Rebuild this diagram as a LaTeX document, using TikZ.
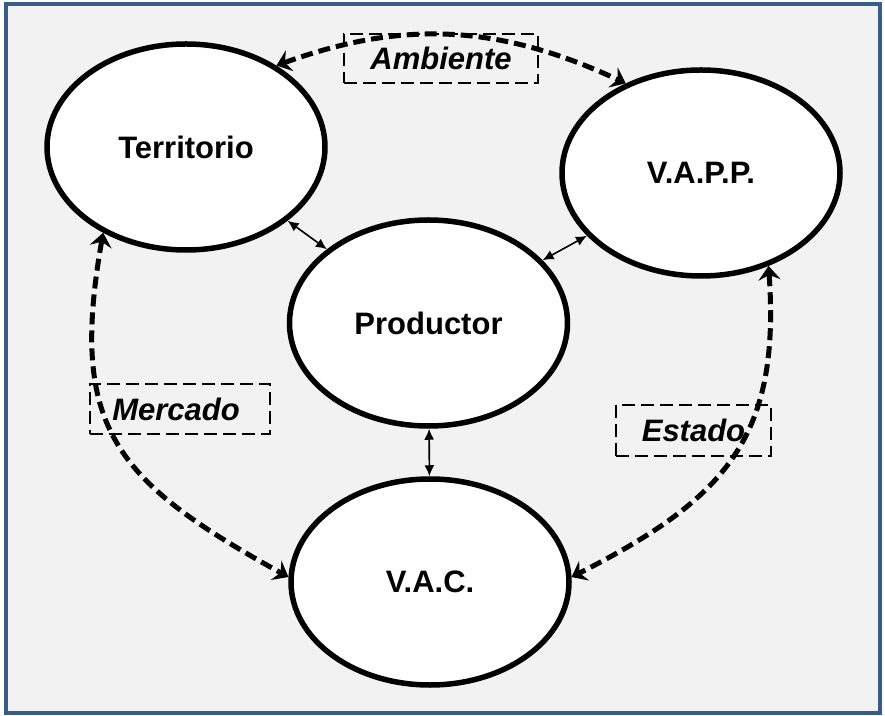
\documentclass[tikz,border=0pt]{standalone}
\usepackage{fontspec}
\setmainfont{Liberation Sans}
\usetikzlibrary{shapes.geometric,arrows.meta}
\definecolor{marco}{RGB}{56,93,138}
\definecolor{fondo}{RGB}{242,242,242}
\begin{document}
\begin{tikzpicture}[x=1pt,y=1pt,
    elipse/.style={ellipse,draw,fill=white,line width=5.5pt,minimum width=278pt,minimum height=206pt,
      font=\fontsize{31}{36}\selectfont\bfseries},
    etiqueta/.style={draw,line width=2pt,dash pattern=on 13pt off 6pt,inner sep=0pt,
      font=\fontsize{31}{36}\selectfont\bfseries\itshape},
    flecha/.style={line width=5pt,dash pattern=on 12pt off 6pt,
      {Stealth[length=14pt,width=22pt,inset=5pt]}-{Stealth[length=14pt,width=22pt,inset=5pt]}},
    enlace/.style={line width=1.6pt,{Latex[length=11pt,width=10pt]}-{Latex[length=11pt,width=10pt]}}]
    \useasboundingbox (0,0) rectangle (885,715);
    \fill[white] (0,0) rectangle (885,715);
    \draw[marco,line width=4pt,fill=fondo] (6,2) rectangle (880,711);

    % nodos
    \node[elipse] (terr) at (186,568) {Territorio};
    \node[elipse] (vapp) at (701,542) {V.A.P.P.};
    \node[elipse] (prod) at (428.5,392) {Productor};
    \node[elipse] (vac) at (430,133) {V.A.C.};

    % etiquetas
    \node[etiqueta,minimum width=194pt,minimum height=49pt] (amb) at (441,656.5) {Ambiente};
    \node[etiqueta,minimum width=180pt,minimum height=50pt] (merc) at (180,306) {\hspace*{-8pt}Mercado};
    \node[etiqueta,minimum width=155pt,minimum height=51pt] (est) at (693.5,284.5) {Estado};

    \draw[enlace] (terr) -- (prod);
    \draw[enlace] (vapp) -- (prod);
    \draw[enlace] (prod) -- (vac);

    \draw[flecha] (terr.42) to[out=20,in=155] (vapp.130);
    \draw[flecha] (terr.226) to[out=260,in=151,looseness=1.3] (vac.178);
    \draw[flecha] (vapp.306) to[out=274,in=27,looseness=1.2] (vac.2);
\end{tikzpicture}
\end{document}
